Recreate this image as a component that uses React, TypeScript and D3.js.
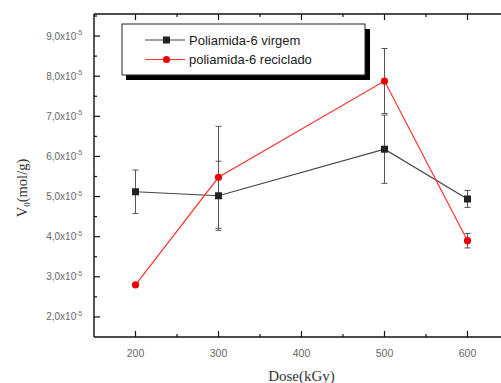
import * as d3 from "d3";
import { useEffect, useRef } from "react";

const doses = [200, 300, 500, 600];
const virgem = [5.12, 5.02, 6.18, 4.94];
const virgemErr = [0.54, 0.86, 0.85, 0.21];
const reciclado = [2.8, 5.48, 7.88, 3.9];
const recicladoErr = [0.05, 1.27, 0.81, 0.18];
const yTicks = [2, 3, 4, 5, 6, 7, 8, 9];
const xTicks = [200, 300, 400, 500, 600];
const seriesNames = ["Poliamida-6 virgem", "poliamida-6 reciclado"];

export default function App() {
  const ref = useRef<SVGSVGElement>(null);

  useEffect(() => {
    if (!ref.current) return;
    const svg = d3.select(ref.current);
    svg.selectAll("*").remove();

    const W = 501;
    const H = 383;
    const x = d3.scaleLinear().domain([150, 650]).range([94, 509]);
    const y = d3.scaleLinear().domain([1.5, 9.55]).range([337, 14]);
    const font = "'Liberation Sans', Arial, sans-serif";
    const serif = "'Liberation Serif', 'Times New Roman', serif";

    svg.append("rect").attr("width", W).attr("height", H).attr("fill", "#fff");

    // frame
    const frame = svg.append("g").attr("stroke", "#111").attr("stroke-width", 1.4);
    frame.append("line").attr("x1", x(150)).attr("x2", W).attr("y1", y(1.5)).attr("y2", y(1.5));
    frame.append("line").attr("x1", x(150)).attr("x2", W).attr("y1", y(9.55)).attr("y2", y(9.55));
    frame.append("line").attr("x1", x(150)).attr("x2", x(150)).attr("y1", y(1.5)).attr("y2", y(9.55));

    // y ticks (inward), major + minor
    const yMinor = d3.range(2, 9.6, 0.5);
    svg.append("g").selectAll("line")
      .data(yMinor)
      .join("line")
      .attr("x1", x(150))
      .attr("x2", d => x(150) + (Number.isInteger(d) ? 6 : 3))
      .attr("y1", d => y(d))
      .attr("y2", d => y(d))
      .attr("stroke", "#111")
      .attr("stroke-width", 1.2);

    // x ticks bottom & top
    const xMinor = d3.range(200, 651, 50);
    [y(1.5), y(9.55)].forEach((yy, k) => {
      svg.append("g").selectAll("line")
        .data(xMinor)
        .join("line")
        .attr("x1", d => x(d))
        .attr("x2", d => x(d))
        .attr("y1", yy)
        .attr("y2", d => yy + (k === 0 ? -1 : 1) * (d % 100 === 0 ? 6 : 3))
        .attr("stroke", "#111")
        .attr("stroke-width", 1.2);
    });

    // y tick labels
    const yl = svg.append("g")
      .attr("font-family", font)
      .attr("font-size", 10)
      .attr("fill", "#666")
      .attr("text-anchor", "end");
    yTicks.forEach(t => {
      const txt = yl.append("text").attr("x", 82).attr("y", y(t) + 3.5);
      txt.append("tspan").text(`${d3.format(".1f")(t).replace(".", ",")}x10`);
      txt.append("tspan").attr("dy", -4.5).attr("font-size", 6.5).text("-5");
    });

    // x tick labels
    svg.append("g").selectAll("text")
      .data(xTicks)
      .join("text")
      .attr("x", d => x(d))
      .attr("y", 357)
      .attr("text-anchor", "middle")
      .attr("font-family", font)
      .attr("font-size", 10.5)
      .attr("fill", "#666")
      .text(d => d);

    // axis titles
    svg.append("text")
      .attr("x", x(400))
      .attr("y", 381)
      .attr("text-anchor", "middle")
      .attr("font-family", serif)
      .attr("font-size", 15)
      .attr("fill", "#333")
      .text("Dose(kGy)");

    const yt = svg.append("text")
      .attr("transform", `translate(27,188) rotate(-90)`)
      .attr("text-anchor", "middle")
      .attr("font-family", serif)
      .attr("font-size", 14.5)
      .attr("fill", "#333");
    yt.append("tspan").text("V");
    yt.append("tspan").attr("dy", 3).attr("font-size", 9).text("0");
    yt.append("tspan").attr("dy", -3).text("(mol/g)");

    const series = [
      { vals: virgem, errs: virgemErr, color: "#222", line: "#444", shape: "square" },
      { vals: reciclado, errs: recicladoErr, color: "#ee0000", line: "#ff3333", shape: "circle" },
    ];

    // error bars
    series.forEach(s => {
      const g = svg.append("g").attr("stroke", "#555").attr("stroke-width", 1);
      doses.forEach((d, i) => {
        const top = s.vals[i] + s.errs[i];
        const bot = s.vals[i] - s.errs[i];
        g.append("line").attr("x1", x(d)).attr("x2", x(d)).attr("y1", y(top)).attr("y2", y(bot));
        [top, bot].forEach(v => {
          g.append("line").attr("x1", x(d) - 3).attr("x2", x(d) + 3).attr("y1", y(v)).attr("y2", y(v));
        });
      });
    });

    // lines & markers
    series.forEach(s => {
      const line = d3.line<number>().x((_, i) => x(doses[i])).y(v => y(v));
      svg.append("path")
        .datum(s.vals)
        .attr("d", line)
        .attr("fill", "none")
        .attr("stroke", s.line)
        .attr("stroke-width", 1.2);
      if (s.shape === "square") {
        svg.append("g").selectAll("rect")
          .data(s.vals)
          .join("rect")
          .attr("x", (_, i) => x(doses[i]) - 3.5)
          .attr("y", v => y(v) - 3.5)
          .attr("width", 7)
          .attr("height", 7)
          .attr("fill", s.color);
      } else {
        svg.append("g").selectAll("circle")
          .data(s.vals)
          .join("circle")
          .attr("cx", (_, i) => x(doses[i]))
          .attr("cy", v => y(v))
          .attr("r", 3.6)
          .attr("fill", s.color);
      }
    });

    // legend
    const lg = svg.append("g");
    lg.append("rect").attr("x", 126).attr("y", 29).attr("width", 244).attr("height", 51).attr("fill", "#000");
    lg.append("rect").attr("x", 122).attr("y", 24).attr("width", 243).attr("height", 51)
      .attr("fill", "#fff").attr("stroke", "#222").attr("stroke-width", 1);
    series.forEach((s, i) => {
      const yy = 40 + i * 19.5;
      lg.append("line").attr("x1", 145).attr("x2", 185).attr("y1", yy).attr("y2", yy)
        .attr("stroke", s.line).attr("stroke-width", 1.2);
      if (s.shape === "square") {
        lg.append("rect").attr("x", 163).attr("y", yy - 3.5).attr("width", 7).attr("height", 7).attr("fill", s.color);
      } else {
        lg.append("circle").attr("cx", 166.5).attr("cy", yy).attr("r", 3.6).attr("fill", s.color);
      }
      lg.append("text")
        .attr("x", 189)
        .attr("y", yy + 4.5)
        .attr("font-family", font)
        .attr("font-size", 13)
        .attr("fill", "#222")
        .text(seriesNames[i]);
    });
  }, []);

  return (
    <svg
      ref={ref}
      width={501}
      height={383}
      style={{ position: "absolute", left: 0, top: 0, display: "block" }}
    />
  );
}
